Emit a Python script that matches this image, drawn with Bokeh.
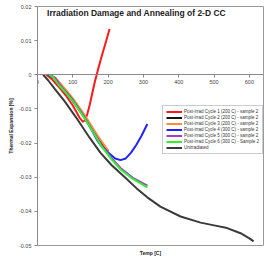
from bokeh.plotting import figure
from bokeh.models import (Legend, LegendItem, Label, FixedTicker, NumeralTickFormatter, Range1d,
                          LinearAxis, Title)
from bokeh.embed import file_html
from bokeh.resources import INLINE

title = "Irradiation Damage and Annealing of 2-D CC"
x_label = "Temp [C]"
y_label = "Thermal Expansion [%]"

x_ticks = [0, 100, 200, 300, 400, 500, 600]
y_ticks = [0.02, 0.01, 0.0, -0.01, -0.02, -0.03, -0.04, -0.05]

names = [
    "Post-irrad Cycle 1 (200 C) - sample 2",
    "Post-irrad Cycle 2 (200 C) - sample 2",
    "Post-irrad Cycle 3 (200 C) - sample 2",
    "Post-irrad Cycle 4 (300 C) - sample 2",
    "Post-irrad Cycle 5 (300 C) - sample 2",
    "Post-irrad Cycle 6 (300 C) - Sample 2",
    "Unirradiated",
]
colors = ["#ff1a1a", "#111111", "#ff8a3d", "#2222ff", "#a040c0", "#33ee33", "#3a3a3a"]

c1_t = [25, 40, 60, 80, 100, 120, 129, 135, 141, 148, 155, 162, 172, 185, 195, 204]
c1_v = [0, -0.0012, -0.0035, -0.006, -0.009, -0.0127, -0.0138, -0.0132, -0.0115, -0.0088,
        -0.0055, -0.0022, 0.0018, 0.0066, 0.0101, 0.0134]

c2_t = [32, 50, 65, 85, 105, 130, 150, 170, 185, 200]
c2_v = [0, -0.0011, -0.0029, -0.0054, -0.008, -0.0119, -0.015, -0.0182, -0.0203, -0.0225]

c3_t = [35, 50, 65, 85, 105, 130, 150, 170, 185, 200]
c3_v = [0, -0.0008, -0.0026, -0.005, -0.0076, -0.0113, -0.0145, -0.0178, -0.02, -0.0222]

c4_t = [30, 45, 60, 80, 101, 130, 155, 170, 178, 200, 220, 235, 250, 265, 280, 295, 311]
c4_v = [0, -0.0007, -0.0028, -0.005, -0.0076, -0.012, -0.0165, -0.0193, -0.0205, -0.0228,
        -0.0245, -0.025, -0.0245, -0.0228, -0.0205, -0.0178, -0.0144]

c5_t = [35, 50, 70, 90, 110, 130, 160, 180, 210, 235, 270, 311]
c5_v = [0, -0.001, -0.0038, -0.0064, -0.0092, -0.0121, -0.017, -0.0205, -0.0244, -0.0273,
        -0.0302, -0.0325]

c6_t = [33, 45, 60, 80, 101, 130, 160, 180, 210, 235, 270, 311]
c6_v = [0, -0.0008, -0.003, -0.0052, -0.0078, -0.0122, -0.0172, -0.0208, -0.0248, -0.0277,
        -0.0305, -0.033]

un_t = [16, 30, 50, 77, 110, 148, 178, 210, 245, 280, 311, 348, 405, 462, 500, 537, 575, 600, 612]
un_v = [0, -0.0016, -0.0043, -0.0078, -0.0126, -0.0185, -0.0228, -0.0265, -0.0298, -0.0332,
        -0.0359, -0.0386, -0.0415, -0.0433, -0.0441, -0.0449, -0.0464, -0.0479, -0.0488]

series = [(c1_t, c1_v), (c2_t, c2_v), (c3_t, c3_v), (c4_t, c4_v), (c5_t, c5_v), (c6_t, c6_v), (un_t, un_v)]

FONT = "Liberation Sans"

p = figure(width=264, height=258, output_backend="svg", toolbar_location=None,
           x_range=Range1d(0, 640), y_range=Range1d(-0.05, 0.02),
           min_border_left=37, min_border_right=1, min_border_top=6, min_border_bottom=13)
p.outline_line_color = "#9a9a9a"
p.outline_line_width = 1
p.xgrid.visible = False
p.ygrid.visible = False
p.background_fill_color = "white"
p.border_fill_color = "white"

items = []
for (t, v), name, col in zip(series, names, colors):
    r = p.line(t, v, line_color=col, line_width=2)
    items.append(LegendItem(label=name, renderers=[r]))

# x axis crossing at zero
xa = p.xaxis[0]
xa.fixed_location = 0
xa.ticker = FixedTicker(ticks=x_ticks)
xa.minor_tick_line_color = None
xa.major_tick_in = 0
xa.major_tick_out = 3
xa.major_label_standoff = 2
xa.axis_line_color = "#8a8a8a"
xa.major_tick_line_color = "#8a8a8a"
xa.major_label_text_font = FONT
xa.major_label_text_font_size = "5.5px"
xa.major_label_text_color = "#444444"

# bottom axis carrying only the title
xb = LinearAxis(ticker=FixedTicker(ticks=[]), axis_line_color=None,
                major_tick_line_color=None, minor_tick_line_color=None,
                major_label_text_font_size="0px", axis_label=x_label,
                axis_label_standoff=4, axis_label_text_font=FONT,
                axis_label_text_font_size="5px", axis_label_text_font_style="bold",
                axis_label_text_color="#222222")
p.add_layout(xb, "below")

ya = p.yaxis[0]
ya.ticker = FixedTicker(ticks=y_ticks)
ya.formatter = NumeralTickFormatter(format="0.[00]")
ya.minor_tick_line_color = None
ya.major_tick_in = 0
ya.major_tick_out = 3
ya.major_label_standoff = 3
ya.axis_line_color = "#8a8a8a"
ya.major_tick_line_color = "#8a8a8a"
ya.major_label_text_font = FONT
ya.major_label_text_font_size = "5.5px"
ya.major_label_text_color = "#444444"

p.add_layout(Title(text=y_label, align="center", offset=-12, standoff=3, text_font=FONT,
                   text_font_size="5px", text_font_style="bold", text_color="#222222"), "left")

p.add_layout(Label(x=27, y=0.0181, text=title, text_font=FONT, text_font_size="8.5px",
                   text_font_style="bold", text_color="#222222", text_baseline="middle"))

legend = Legend(items=items, location=(125, 91), label_text_font=FONT,
                label_text_font_size="4.5px", label_text_color="#333333",
                glyph_width=16, glyph_height=5, label_height=5, label_standoff=2,
                spacing=1, padding=3, margin=0, border_line_color="#9a9a9a",
                border_line_width=1, background_fill_alpha=1)
p.add_layout(legend)

open("out.html", "w").write(file_html(p, INLINE))
